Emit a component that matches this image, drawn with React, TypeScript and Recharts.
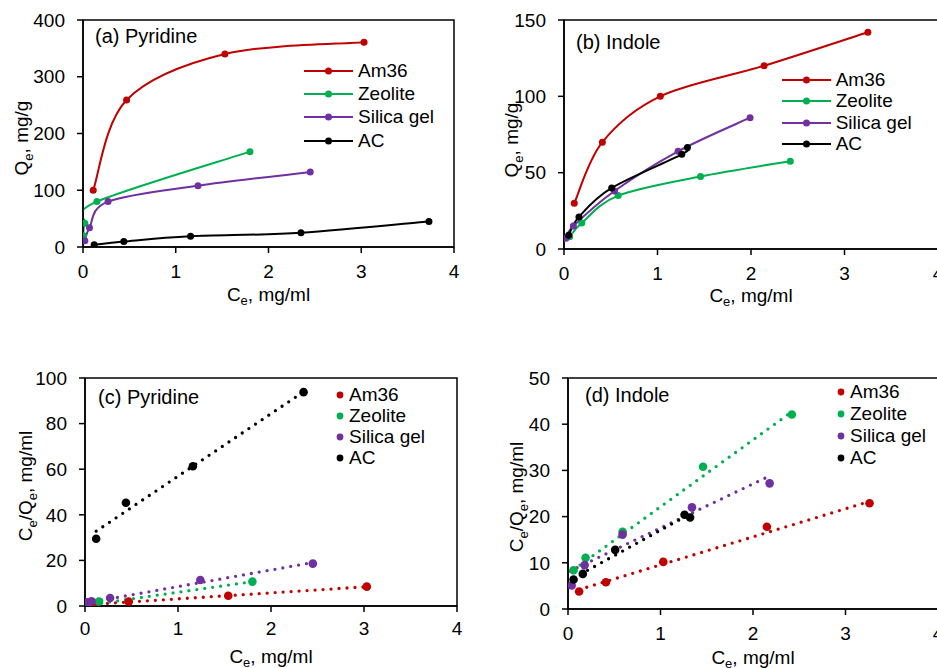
import React from 'react';
import { ComposedChart, Line, Scatter, XAxis, YAxis, ReferenceArea, Legend, Label } from 'recharts';

const SERIES = ['Am36', 'Zeolite', 'Silica gel', 'AC'];
const COLORS = ['#C00000', '#00B050', '#7030A0', '#000000'];
const X_TICKS = [0, 1, 2, 3, 4];

// (a) Pyridine isotherms, Qe (mg/g) vs Ce (mg/ml)
const pyrAm36Ce = [0.11, 0.47, 1.53, 3.03];
const pyrAm36Qe = [100, 259, 340, 361];
const pyrZeoCe = [0.005, 0.02, 0.15, 1.8];
const pyrZeoQe = [20, 42, 80, 168];
const pyrSilCe = [0.02, 0.07, 0.27, 1.24, 2.45];
const pyrSilQe = [11, 34, 80, 108, 132];
const pyrAcCe = [0.12, 0.44, 1.16, 2.35, 3.73];
const pyrAcQe = [4, 9.6, 18.9, 25, 45];

// (b) Indole isotherms
const indAm36Ce = [0.11, 0.41, 1.03, 2.14, 3.25];
const indAm36Qe = [30, 70, 100, 120, 142];
const indZeoCe = [0.06, 0.19, 0.58, 1.46, 2.42];
const indZeoQe = [8, 17, 35, 47.5, 57.5];
const indSilCe = [0.02, 0.1, 0.54, 1.22, 1.99];
const indSilQe = [7, 15, 38, 64, 86];
const indAcCe = [0.05, 0.16, 0.51, 1.26, 1.32];
const indAcQe = [9, 21, 40, 62, 66.5];

// (c) Pyridine, Ce/Qe vs Ce
const lpyrAm36Ce = [0.11, 0.47, 1.54, 3.03];
const lpyrAm36R = [1.1, 1.9, 4.5, 8.5];
const lpyrZeoCe = [0.01, 0.02, 0.15, 1.8];
const lpyrZeoR = [0.4, 0.5, 2.0, 10.7];
const lpyrSilCe = [0.02, 0.07, 0.27, 1.24, 2.45];
const lpyrSilR = [1.6, 2.1, 3.5, 11.4, 18.6];
const lpyrAcCe = [0.12, 0.44, 1.16, 2.35];
const lpyrAcR = [29.5, 45.3, 61.3, 93.8];
// (c) fitted lines, end points
const fpyrAm36 = { x: [0.07, 3.01], y: [0.7, 8.4] };
const fpyrZeo = { x: [0.01, 1.79], y: [0.3, 10.6] };
const fpyrSil = { x: [0.01, 2.44], y: [1.3, 19.0] };
const fpyrAc = { x: [0.12, 2.33], y: [32.8, 93.4] };

// (d) Indole, Ce/Qe vs Ce
const lindAm36Ce = [0.12, 0.41, 1.03, 2.15, 3.26];
const lindAm36R = [3.8, 5.8, 10.2, 17.8, 22.9];
const lindZeoCe = [0.06, 0.19, 0.59, 1.46, 2.42];
const lindZeoR = [8.4, 11.1, 16.7, 30.8, 42.1];
const lindSilCe = [0.04, 0.18, 0.59, 1.34, 2.18];
const lindSilR = [5.1, 9.5, 16.1, 22.0, 27.2];
const lindAcCe = [0.06, 0.16, 0.51, 1.26, 1.32];
const lindAcR = [6.4, 7.6, 12.8, 20.4, 19.8];
const findAm36 = { x: [0.12, 3.23], y: [4.2, 23.1] };
const findZeo = { x: [0.06, 2.4], y: [8.5, 42.4] };
const findSil = { x: [0.02, 2.17], y: [8.2, 28.7] };
const findAc = { x: [0.06, 1.34], y: [6.7, 20.8] };

const pts = (xs: number[], ys: number[]) => xs.map((x, i) => ({ x, y: ys[i] }));

// spreadsheet-style smoothed line (Catmull-Rom through the points)
function smoothCurve(context: any) {
  let p: [number, number][] = [];
  return {
    areaStart() {},
    areaEnd() {},
    lineStart() {
      p = [];
    },
    point(x: number, y: number) {
      p.push([+x, +y]);
    },
    lineEnd() {
      const n = p.length;
      if (!n) return;
      context.moveTo(p[0][0], p[0][1]);
      for (let i = 0; i < n - 1; i++) {
        const p0 = p[Math.max(0, i - 1)];
        const p1 = p[i];
        const p2 = p[i + 1];
        const p3 = p[Math.min(n - 1, i + 2)];
        context.bezierCurveTo(
          p1[0] + (p2[0] - p0[0]) / 6,
          p1[1] + (p2[1] - p0[1]) / 6,
          p2[0] - (p3[0] - p1[0]) / 6,
          p2[1] - (p3[1] - p1[1]) / 6,
          p2[0],
          p2[1]
        );
      }
    },
  };
}

type Panel = {
  title: string;
  left: number; top: number; width: number; height: number;
  mTop: number; mRight: number; yW: number; xH: number;
  yMax: number; yTicks: number[]; xTickMargin: number;
  ratio: boolean;
  yl: [number, number]; xl: [number, number]; tl: [number, number];
  lg: { x: number; y: number; row: number };
  data: { x: number; y: number }[][];
  fits?: { x: number; y: number }[][];
};

const PANELS: Panel[] = [
  {
    title: '(a) Pyridine', left: 0, top: 0, width: 470, height: 310, mTop: 20, mRight: 16, yW: 83, xH: 63,
    yMax: 400, yTicks: [0, 100, 200, 300, 400], xTickMargin: 12, ratio: false,
    yl: [28, 138], xl: [268.5, 300.5], tl: [95, 43.3], lg: { x: 304, y: 59, row: 23.3 },
    data: [pts(pyrAm36Ce, pyrAm36Qe), pts(pyrZeoCe, pyrZeoQe), pts(pyrSilCe, pyrSilQe), pts(pyrAcCe, pyrAcQe)],
  },
  {
    title: '(b) Indole', left: 470, top: 0, width: 480, height: 310, mTop: 20, mRight: 12, yW: 94, xH: 61,
    yMax: 150, yTicks: [0, 50, 100, 150], xTickMargin: 12, ratio: false,
    yl: [48, 140], xl: [281, 302], tl: [106, 48.7], lg: { x: 311.7, y: 69.3, row: 21.3 },
    data: [pts(indAm36Ce, indAm36Qe), pts(indZeoCe, indZeoQe), pts(indSilCe, indSilQe), pts(indAcCe, indAcQe)],
  },
  {
    title: '(c) Pyridine', left: 0, top: 355, width: 470, height: 313, mTop: 23, mRight: 13, yW: 85, xH: 62,
    yMax: 100, yTicks: [0, 20, 40, 60, 80, 100], xTickMargin: 10, ratio: true,
    yl: [31.5, 131], xl: [271, 308], tl: [98, 49], lg: { x: 336, y: 29.5, row: 21 },
    data: [pts(lpyrAm36Ce, lpyrAm36R), pts(lpyrZeoCe, lpyrZeoR), pts(lpyrSilCe, lpyrSilR), pts(lpyrAcCe, lpyrAcR)],
    fits: [fpyrAm36, fpyrZeo, fpyrSil, fpyrAc].map((f) => pts(f.x, f.y)),
  },
  {
    title: '(d) Indole', left: 470, top: 355, width: 480, height: 313, mTop: 23, mRight: 12, yW: 98, xH: 59,
    yMax: 50, yTicks: [0, 10, 20, 30, 40, 50], xTickMargin: 12, ratio: true,
    yl: [53, 142], xl: [283, 308.5], tl: [115, 46.7], lg: { x: 367, y: 26.3, row: 22 },
    data: [pts(lindAm36Ce, lindAm36R), pts(lindZeoCe, lindZeoR), pts(lindSilCe, lindSilR), pts(lindAcCe, lindAcR)],
    fits: [findAm36, findZeo, findSil, findAc].map((f) => pts(f.x, f.y)),
  },
];

const FS = 19;
const SUB = 13;

function YTitle({ x, y, ratio }: { x: number; y: number; ratio: boolean }) {
  return (
    <text x={x} y={y} transform={`rotate(-90 ${x} ${y})`} textAnchor="middle" fontSize={FS} fill="#000">
      {ratio ? (
        <>
          <tspan>C</tspan>
          <tspan fontSize={SUB} dy={5}>e</tspan>
          <tspan dy={-5}>/Q</tspan>
          <tspan fontSize={SUB} dy={5}>e</tspan>
          <tspan dy={-5}>, mg/ml</tspan>
        </>
      ) : (
        <>
          <tspan>Q</tspan>
          <tspan fontSize={SUB} dy={5}>e</tspan>
          <tspan dy={-5}>, mg/g</tspan>
        </>
      )}
    </text>
  );
}

function XTitle({ x, y }: { x: number; y: number }) {
  return (
    <text x={x} y={y} textAnchor="middle" fontSize={FS} fill="#000">
      <tspan>C</tspan>
      <tspan fontSize={SUB} dy={4}>e</tspan>
      <tspan dy={-4}>, mg/ml</tspan>
    </text>
  );
}

function LegendBox({ row, dotsOnly }: { row: number; dotsOnly: boolean }) {
  return (
    <div style={{ fontSize: FS, color: '#000' }}>
      {SERIES.map((name, i) => (
        <div key={name} style={{ display: 'flex', alignItems: 'center', height: row, whiteSpace: 'nowrap' }}>
          <svg width={dotsOnly ? 9 : 49} height={10} style={{ marginRight: dotsOnly ? 4 : 5 }}>
            {!dotsOnly && <line x1={0} x2={49} y1={5} y2={5} stroke={COLORS[i]} strokeWidth={2} />}
            <circle cx={dotsOnly ? 4 : 24.5} cy={5} r={dotsOnly ? 3.4 : 3.5} fill={COLORS[i]} />
          </svg>
          <span>{name}</span>
        </div>
      ))}
    </div>
  );
}

function PanelChart({ p }: { p: Panel }) {
  return (
    <div style={{ position: 'absolute', left: p.left, top: p.top }}>
      <ComposedChart width={p.width} height={p.height} margin={{ top: p.mTop, right: p.mRight, left: 0, bottom: 0 }}>
        <XAxis
          type="number"
          dataKey="x"
          domain={[0, 4]}
          ticks={X_TICKS}
          height={p.xH}
          tickSize={6}
          tickMargin={p.xTickMargin}
          tick={{ fontSize: FS, fill: '#000' }}
          axisLine={{ stroke: '#000', strokeWidth: 1.5 }}
          tickLine={{ stroke: '#000', strokeWidth: 1.5 }}
          allowDataOverflow
        >
          <Label content={() => <XTitle x={p.xl[0]} y={p.xl[1]} />} />
        </XAxis>
        <YAxis
          type="number"
          domain={[0, p.yMax]}
          ticks={p.yTicks}
          width={p.yW}
          tickSize={6}
          tickMargin={12}
          tick={{ fontSize: FS, fill: '#000' }}
          axisLine={{ stroke: '#000', strokeWidth: 1.5 }}
          tickLine={{ stroke: '#000', strokeWidth: 1.5 }}
          allowDataOverflow
        >
          <Label content={() => <YTitle x={p.yl[0]} y={p.yl[1]} ratio={p.ratio} />} />
        </YAxis>
        <ReferenceArea x1={0} x2={4} y1={0} y2={p.yMax} fill="none" stroke="#000" strokeWidth={1.5} />
        <Legend
          layout="horizontal"
          verticalAlign="middle"
          align="center"
          wrapperStyle={{ left: p.lg.x, top: p.lg.y, width: 'auto', height: 'auto' }}
          content={() => <LegendBox row={p.lg.row} dotsOnly={p.ratio} />}
        />
        {!p.ratio &&
          p.data.map((d, i) => (
            <Line
              key={SERIES[i]}
              name={SERIES[i]}
              data={d}
              dataKey="y"
              type={smoothCurve as any}
              stroke={COLORS[i]}
              strokeWidth={2}
              dot={{ r: 3.5, fill: COLORS[i], stroke: COLORS[i], strokeWidth: 0 }}
              activeDot={false}
              isAnimationActive={false}
            />
          ))}
        {p.ratio &&
          p.fits!.map((d, i) => (
            <Line
              key={'fit' + SERIES[i]}
              data={d}
              dataKey="y"
              type="linear"
              stroke={COLORS[i]}
              strokeWidth={3.3}
              strokeDasharray="0 8"
              strokeLinecap="round"
              dot={false}
              activeDot={false}
              legendType="none"
              isAnimationActive={false}
            />
          ))}
        {p.ratio &&
          p.data.map((d, i) => (
            <Scatter
              key={SERIES[i]}
              name={SERIES[i]}
              data={d}
              dataKey="y"
              fill={COLORS[i]}
              shape={(s: any) => <circle cx={s.cx} cy={s.cy} r={4.3} fill={COLORS[i]} />}
              isAnimationActive={false}
            />
          ))}
      </ComposedChart>
      <svg width={p.width} height={p.height} style={{ position: 'absolute', left: 0, top: 0, pointerEvents: 'none' }}>
        <text x={p.tl[0]} y={p.tl[1]} fontSize={20} fill="#000">
          {p.title}
        </text>
      </svg>
    </div>
  );
}

export default function App() {
  return (
    <div
      style={{
        position: 'absolute',
        left: 0,
        top: 0,
        width: 937,
        height: 668,
        overflow: 'hidden',
        background: '#fff',
        fontFamily: '"Liberation Sans", Arial, sans-serif',
      }}
    >
      {PANELS.map((p) => (
        <PanelChart key={p.title} p={p} />
      ))}
    </div>
  );
}
